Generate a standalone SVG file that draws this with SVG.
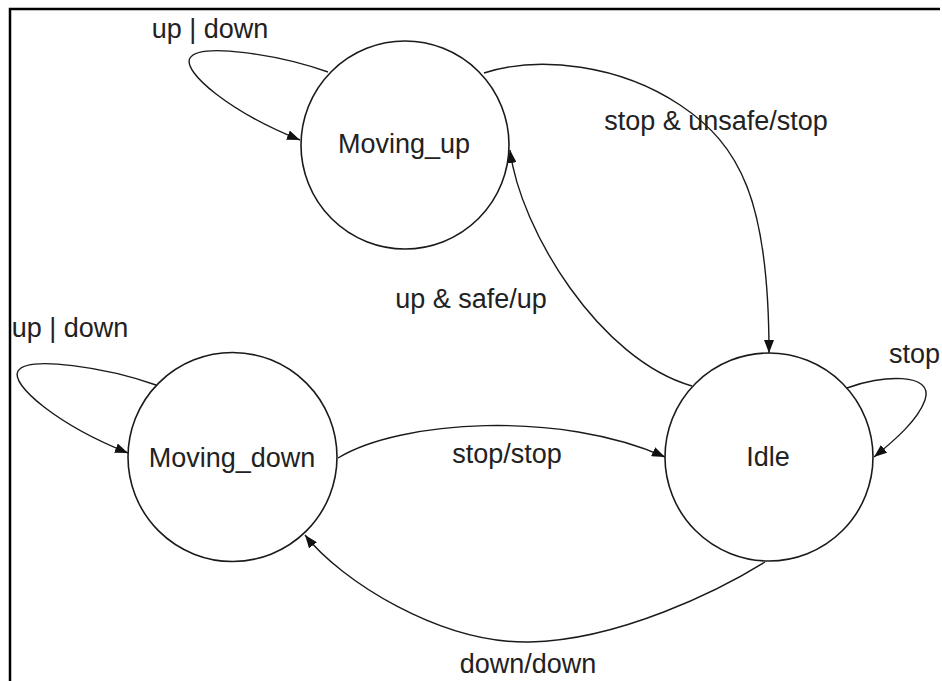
<svg xmlns="http://www.w3.org/2000/svg" width="942" height="681" viewBox="0 0 942 681">
<style>
.st{fill:#fff;stroke:#1a1a1a;stroke-width:1.6}
.ln{fill:none;stroke:#1a1a1a;stroke-width:1.4;marker-end:url(#ah)}
text{font-family:"Liberation Sans",Arial,sans-serif;font-size:27px;fill:#222}
</style>
<defs>
<marker id="ah" markerUnits="userSpaceOnUse" markerWidth="14" markerHeight="10" refX="13" refY="5" orient="auto">
<path d="M0,0 L13,5 L0,10 z" fill="#111"/>
</marker>
</defs>
<rect width="942" height="681" fill="#fff"/>
<path d="M10,681 V9 H940" fill="none" stroke="#000" stroke-width="2.5"/>
<g id="connectors">
<path class="ln" d="M328,72 C280,55 200,42 190,58 C182,72 230,112 300,140"/>
<path class="ln" d="M156,385 C108,368 28,355 18,371 C10,385 58,425 128,453"/>
<path class="ln" d="M847,388 C880,375 935,372 925,400 C918,420 895,440 874,457"/>
<path class="ln" d="M484,73 C540,55 620,65 680,105 C740,145 769,200 769,353"/>
<path class="ln" d="M692,386 C600,360 520,230 510,150"/>
<path class="ln" d="M338,458 C400,420 560,410 665,457"/>
<path class="ln" d="M765,562 C720,590 620,640 530,642 C440,644 340,580 305,535"/>
</g>
<g id="moving_up">
<circle class="st" cx="405" cy="145" r="104"/>
<text x="404" y="153" text-anchor="middle">Moving_up</text>
</g>
<g id="moving_down">
<circle class="st" cx="232.5" cy="457" r="104.5"/>
<text x="232" y="467" text-anchor="middle">Moving_down</text>
</g>
<g id="idle">
<circle class="st" cx="769" cy="457" r="104"/>
<text x="768" y="466" text-anchor="middle">Idle</text>
</g>
<g id="labels">
<text x="210" y="38" text-anchor="middle">up | down</text>
<text x="70" y="337" text-anchor="middle">up | down</text>
<text x="716" y="130" text-anchor="middle">stop &amp; unsafe/stop</text>
<text x="471" y="308" text-anchor="middle">up &amp; safe/up</text>
<text x="889" y="363">stop</text>
<text x="507" y="463" text-anchor="middle">stop/stop</text>
<text x="528" y="673" text-anchor="middle">down/down</text>
</g>
</svg>
